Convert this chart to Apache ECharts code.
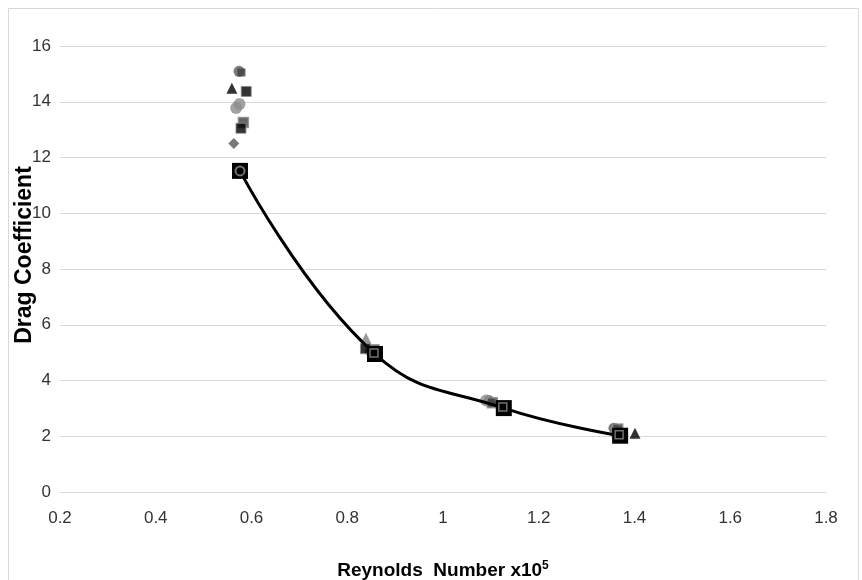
<!DOCTYPE html>
<html><head><meta charset="utf-8">
<script src="https://cdn.jsdelivr.net/npm/echarts@6/dist/echarts.min.js"></script>
<style>html,body{margin:0;padding:0;background:#fff}#c{width:862px;height:580px}</style>
</head><body><div id="c"></div>
<script>
// Axis ticks
const xTicks = [0.2, 0.4, 0.6, 0.8, 1.0, 1.2, 1.4, 1.6, 1.8];
const yTicks = [0, 2, 4, 6, 8, 10, 12, 14, 16];
const yTitle = 'Drag Coefficient';

// Average curve (Reynolds number x1e5, drag coefficient)
const avgRe = [0.576, 0.858, 1.127, 1.370];
const avgCd = [11.52, 4.95, 3.01, 2.02];

// Individual trials
const trialCircleDark = [[0.574, 15.09], [0.848, 5.05], [1.096, 3.28], [1.357, 2.29]];
const trialTriangle = [[0.559, 14.48], [1.401, 2.11]];
const trialTriangleGray = [[0.839, 5.52]];
const trialSquareBlack = [[0.589, 14.37], [0.838, 5.14], [0.578, 13.05]];
const trialCircleLight = [[0.568, 13.78], [0.575, 13.92], [1.090, 3.28]];
const trialSquareGray = [[0.583, 13.26], [0.856, 5.10], [1.103, 3.20], [1.363, 2.16], [1.365, 2.26]];
const trialDiamond = [[0.563, 12.50], [1.100, 3.22]];
const trialCircleHalf = [[0.579, 15.05]];

const chart = echarts.init(document.getElementById('c'));
const font = 'Liberation Sans, Arial, sans-serif';
chart.setOption({
  animation: false,
  backgroundColor: '#fff',
  graphic: [
    {type: 'rect', shape: {x: 8.5, y: 8.5, width: 850, height: 600}, style: {fill: 'none', stroke: '#d9d9d9', lineWidth: 1}, silent: true},
    {type: 'text', x: 25, y: 255, rotation: Math.PI / 2, silent: true,
      style: {text: yTitle, align: 'center', verticalAlign: 'middle', fill: '#000',
        font: 'bold 23px Liberation Sans, Arial, sans-serif'}}
  ],
  grid: {left: 60, right: 36, top: 46, bottom: 88, outerBoundsMode: 'none', containLabel: false},
  xAxis: {
    type: 'value', min: 0.2, max: 1.8, interval: 0.2,
    axisLine: {show: false}, axisTick: {show: false},
    splitLine: {show: false},
    axisLabel: {fontFamily: font, fontSize: 17, color: '#333', margin: 18,
      formatter: v => { const r = Math.round(v * 10) / 10; return xTicks.includes(r) ? String(r) : ''; }},
    name: '{a|Reynolds  Number x10}{s|5}', nameLocation: 'middle', nameGap: 68,
    nameTextStyle: {rich: {
      a: {fontFamily: font, fontSize: 19, fontWeight: 'bold', color: '#000'},
      s: {fontFamily: font, fontSize: 12, fontWeight: 'bold', color: '#000', padding: [0, 0, 9, 0]}
    }}
  },
  yAxis: {
    type: 'value', min: 0, max: 16, interval: 2,
    axisLine: {show: false}, axisTick: {show: false},
    splitLine: {lineStyle: {color: '#d9d9d9', width: 1}},
    axisLabel: {fontFamily: font, fontSize: 17, color: '#333', margin: 9,
      formatter: v => yTicks.includes(v) ? String(v) : ''}
  },
  series: [
    {type: 'line', data: avgRe.map((x, i) => [x, avgCd[i]]), smooth: 0.45,
      lineStyle: {color: '#000', width: 3}, symbol: 'rect', symbolSize: 16,
      itemStyle: {color: '#000'}, z: 5},
    {type: 'scatter', data: trialCircleDark, symbol: 'circle', symbolSize: 11, itemStyle: {color: '#595959'}, z: 3},
    {type: 'scatter', data: trialCircleHalf, symbol: 'rect', symbolSize: 8, itemStyle: {color: '#404040'}, z: 3},
    {type: 'scatter', data: trialTriangle, symbol: 'triangle', symbolSize: 11, itemStyle: {color: '#000'}, z: 3},
    {type: 'scatter', data: trialTriangleGray, symbol: 'triangle', symbolSize: 11, itemStyle: {color: '#7f7f7f'}, z: 3},
    {type: 'scatter', data: trialCircleLight, symbol: 'circle', symbolSize: 12, itemStyle: {color: '#8c8c8c'}, z: 3},
    {type: 'scatter', data: trialSquareGray, symbol: 'rect', symbolSize: 10, itemStyle: {color: '#404040', borderColor: '#8c8c8c', borderWidth: 1.5}, z: 4},
    {type: 'scatter', data: trialSquareBlack, symbol: 'rect', symbolSize: 10, itemStyle: {color: '#000', borderColor: '#8c8c8c', borderWidth: 1}, z: 4},
    {type: 'scatter', data: trialDiamond, symbol: 'diamond', symbolSize: 11, itemStyle: {color: '#595959'}, z: 3},
    {type: 'scatter', data: [[avgRe[0], avgCd[0]]], symbol: 'circle', symbolSize: 9,
      itemStyle: {color: 'transparent', borderColor: '#8c8c8c', borderWidth: 2}, z: 6},
    {type: 'scatter', data: avgRe.slice(1).map((x, i) => [x, avgCd[i + 1]]), symbol: 'rect', symbolSize: 8,
      symbolOffset: [-1, -1],
      itemStyle: {color: 'transparent', borderColor: '#8c8c8c', borderWidth: 1.5}, z: 6}
  ]
});
</script></body></html>
